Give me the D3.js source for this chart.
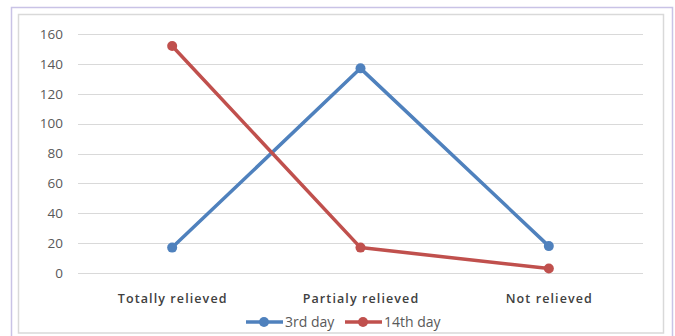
<!DOCTYPE html>
<html>
<head>
<meta charset="utf-8">
<script src="https://cdn.jsdelivr.net/npm/d3@7"></script>
<style>
  html, body { margin: 0; padding: 0; background: #fff; }
  svg { display: block; }
</style>
</head>
<body>
<svg id="chart" width="675" height="336"></svg>
<script>
const categories = ["Totally relieved", "Partialy relieved", "Not relieved"];
const seriesNames = ["3rd day", "14th day"];
const day3 = [17, 137, 18];
const day14 = [152, 17, 3];
const yTicks = [0, 20, 40, 60, 80, 100, 120, 140, 160];
const colors = ["#4F81BD", "#C0504D"];

const svg = d3.select("#chart");

// outer frame and chart area border
svg.append("rect").attr("x", 11.5).attr("y", 7.5).attr("width", 661).attr("height", 340)
  .attr("fill", "#fff").attr("stroke", "#c9c3e6").attr("stroke-width", 1.5);
svg.append("rect").attr("x", 18.5).attr("y", 14.5).attr("width", 645).attr("height", 318.5)
  .attr("fill", "#fff").attr("stroke", "#d9d9d9").attr("stroke-width", 1.5);

const x = d3.scalePoint().domain(categories).range([78, 643]).padding(0.5);
const y = d3.scaleLinear().domain([0, 160]).range([273, 34]);

// horizontal gridlines
svg.append("g").selectAll("line").data(yTicks).join("line")
  .attr("x1", 78).attr("x2", 643)
  .attr("y1", d => Math.round(y(d)) + 0.5).attr("y2", d => Math.round(y(d)) + 0.5)
  .attr("stroke", "#d9d9d9").attr("stroke-width", 1);

// y axis labels
const yAxis = d3.axisLeft(y).tickValues(yTicks).tickSize(0).tickPadding(0);
const gy = svg.append("g").attr("transform", "translate(63,0)").call(yAxis);
gy.select(".domain").remove();
gy.selectAll("text").attr("font-family", "'Open Sans', sans-serif").attr("font-size", 13.5)
  .attr("fill", "#595959");

// x axis labels
const xAxis = d3.axisBottom(x).tickSize(0).tickPadding(0);
const gx = svg.append("g").attr("transform", "translate(0,294)").call(xAxis);
gx.select(".domain").remove();
gx.selectAll("text").attr("font-family", "'Open Sans', sans-serif").attr("font-size", 12.5)
  .attr("fill", "#404040").attr("letter-spacing", "1.1px").attr("font-weight", 600);

const line = d3.line().x((d, i) => x(categories[i])).y(d => y(d));
const series = [day3, day14];

series.forEach((vals, s) => {
  const g = svg.append("g");
  g.append("path").datum(vals).attr("d", line).attr("fill", "none")
    .attr("stroke", colors[s]).attr("stroke-width", 3.5).attr("stroke-linejoin", "round");
  g.selectAll("circle").data(vals).join("circle")
    .attr("cx", (d, i) => x(categories[i])).attr("cy", d => y(d)).attr("r", 5)
    .attr("fill", colors[s]);
});

// legend
const legend = svg.append("g").attr("transform", "translate(0,322)");
const legendX = [246, 345];
seriesNames.forEach((name, s) => {
  const g = legend.append("g").attr("transform", `translate(${legendX[s]},0)`);
  g.append("line").attr("x1", 0).attr("x2", 37).attr("y1", 0).attr("y2", 0)
    .attr("stroke", colors[s]).attr("stroke-width", 3.5);
  g.append("circle").attr("cx", 18).attr("cy", 0).attr("r", 5).attr("fill", colors[s]);
  g.append("text").attr("x", 39).attr("y", 0).attr("dy", "0.35em")
    .attr("font-family", "'Open Sans', sans-serif").attr("font-size", 14)
    .attr("fill", "#595959").text(name);
});
</script>
</body>
</html>
